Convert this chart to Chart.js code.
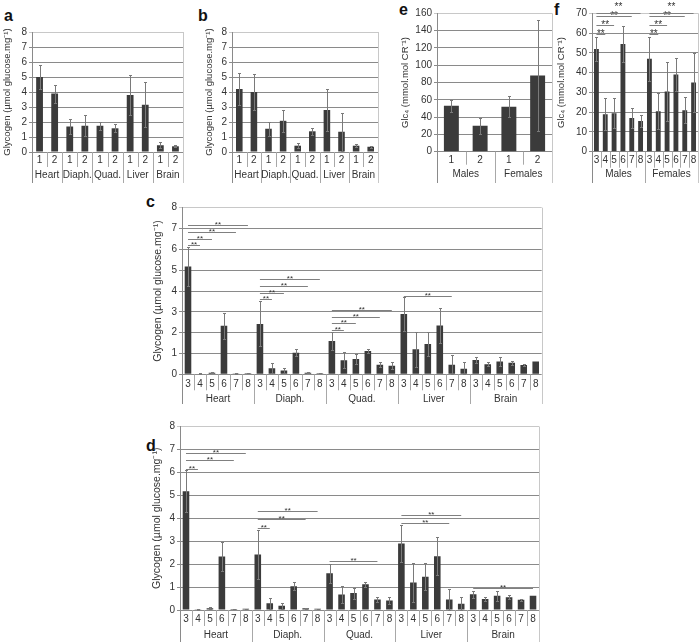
<!DOCTYPE html>
<html>
<head>
<meta charset="utf-8">
<script src="https://cdn.jsdelivr.net/npm/chart.js@4.4.1/dist/chart.umd.min.js"></script>
<style>
body { margin: 0; background: #fff; width: 700px; height: 643px; position: relative; overflow: hidden; }
canvas { position: absolute; }
.lab { position: absolute; font: bold 16px "Liberation Sans", Arial, sans-serif; line-height: 16px; color: #111; }
</style>
</head>
<body>
<div class="lab" style="left:4px;top:8px">a</div>
<div class="lab" style="left:198px;top:8px">b</div>
<div class="lab" style="left:399px;top:2px">e</div>
<div class="lab" style="left:554px;top:2px">f</div>
<div class="lab" style="left:146px;top:194px">c</div>
<div class="lab" style="left:146px;top:438px">d</div>
<canvas id="pa"></canvas>
<canvas id="pb"></canvas>
<canvas id="pe"></canvas>
<canvas id="pf"></canvas>
<canvas id="pc"></canvas>
<canvas id="pd"></canvas>
<script>
var FONT = '"Liberation Sans", Arial, sans-serif';

// categories
var tissues = ['Heart', 'Diaph.', 'Quad.', 'Liver', 'Brain'];
var sexes = ['Males', 'Females'];
var pairLabels = ['1', '2', '1', '2', '1', '2', '1', '2', '1', '2'];
var sexPairLabels = ['1', '2', '1', '2'];
var stages = ['3', '4', '5', '6', '7', '8'];
var tissueStageLabels = [].concat(stages, stages, stages, stages, stages);
var sexStageLabels = [].concat(stages, stages);

// panel a: glycogen, groups 1/2 per tissue
var aMean = [5.0, 3.9, 1.7, 1.75, 1.75, 1.58, 3.8, 3.15, 0.45, 0.38];
var aErr  = [0.8, 0.6, 0.5, 0.7, 0.25, 0.27, 1.35, 1.5, 0.2, 0.07];

// panel b
var bMean = [4.2, 4.0, 1.55, 2.08, 0.42, 1.38, 2.8, 1.35, 0.42, 0.35];
var bErr  = [1.05, 1.2, 0.45, 0.72, 0.18, 0.22, 1.4, 1.25, 0.1, 0.05];

// panels c and d: glycogen by stage 3-8 per tissue
var stageMean = [
  5.18, 0.03, 0.08, 2.33, 0.04, 0.05,
  2.42, 0.29, 0.18, 1.04, 0.08, 0.05,
  1.6, 0.68, 0.74, 1.12, 0.46, 0.41,
  2.9, 1.2, 1.45, 2.34, 0.46, 0.27,
  0.69, 0.48, 0.62, 0.56, 0.45, 0.62
];
var stageErr = [
  0.92, 0.02, 0.03, 0.62, 0.01, 0.01,
  1.08, 0.24, 0.12, 0.18, 0.02, 0.01,
  0.42, 0.38, 0.24, 0.1, 0.12, 0.17,
  0.8, 0.83, 0.58, 0.83, 0.45, 0.31,
  0.16, 0.1, 0.23, 0.1, 0.05, 0.0
];
// significance brackets: [from index, to index, level]
var cBrackets = [
  [0, 1, 6.19], [0, 2, 6.48], [0, 4, 6.83], [0, 5, 7.17],
  [6, 7, 3.6], [6, 8, 3.9], [6, 10, 4.24], [6, 11, 4.56],
  [12, 13, 2.12], [12, 14, 2.44], [12, 16, 2.77], [12, 17, 3.1],
  [18, 22, 3.78]
];
var dBrackets = [
  [0, 1, 6.13], [0, 4, 6.52], [0, 5, 6.86],
  [6, 7, 3.59], [6, 10, 3.96], [6, 11, 4.3],
  [12, 16, 2.13],
  [18, 22, 3.81], [18, 23, 4.14],
  [24, 29, 0.97]
];

// panel e: Glc4 urine
var eMean = [53, 30, 52, 88];
var eErr  = [7, 9, 12, 64];

// panel f: Glc4 by stage
var fMean = [52, 19, 19.5, 54.5, 17, 15.5, 47, 20.5, 30.5, 39, 21, 35];
var fErr  = [6, 8, 7.5, 9, 5, 3, 11, 9, 15, 8.5, 6.5, 15];
var fBrackets = [
  [0, 1, 59.4], [0, 2, 64], [0, 4, 68.5], [0, 5, 70, 76],
  [6, 7, 59.4], [6, 8, 64], [6, 10, 68.5], [6, 11, 70, 76]
];

var glycTitle = 'Glycogen (\u00b5mol glucose.mg\u207b\u00b9)';
var glcTitle = 'Glc\u2084 (mmol.mol CR\u207b\u00b9)';

function errorBarsPlugin(errs) {
  return {
    id: 'errorBars',
    afterDatasetsDraw: function (chart) {
      var ctx = chart.ctx, ys = chart.scales.y;
      var data = chart.data.datasets[0].data;
      var meta = chart.getDatasetMeta(0);
      ctx.save();
      ctx.strokeStyle = '#7a7a7a';
      ctx.lineWidth = 1;
      meta.data.forEach(function (bar, i) {
        if (!errs[i]) return;
        var x = Math.round(bar.x) + 0.5;
        var top = Math.round(ys.getPixelForValue(data[i] + errs[i])) + 0.5;
        var bot = Math.round(ys.getPixelForValue(Math.max(data[i] - errs[i], 0))) + 0.5;
        ctx.beginPath();
        ctx.moveTo(x, top); ctx.lineTo(x, bot);
        ctx.moveTo(x - 1.5, top); ctx.lineTo(x + 1.5, top);
        ctx.moveTo(x - 1.5, bot); ctx.lineTo(x + 1.5, bot);
        ctx.stroke();
      });
      ctx.restore();
    }
  };
}

function bracketsPlugin(list, starSize) {
  return {
    id: 'brackets',
    afterDatasetsDraw: function (chart) {
      var ctx = chart.ctx, xs = chart.scales.x, ys = chart.scales.y;
      ctx.save();
      ctx.strokeStyle = '#808080';
      ctx.lineWidth = 1;
      ctx.fillStyle = '#333';
      ctx.font = starSize + 'px ' + FONT;
      ctx.textAlign = 'center';
      ctx.textBaseline = 'alphabetic';
      (list || []).forEach(function (b) {
        var x0 = xs.getPixelForValue(b[0]), x1 = xs.getPixelForValue(b[1]);
        var y = Math.round(ys.getPixelForValue(b[2])) + 0.5;
        ctx.beginPath(); ctx.moveTo(x0, y); ctx.lineTo(x1, y); ctx.stroke();
        var sy = b.length > 3 ? ys.getPixelForValue(b[3]) + starSize * 0.55 : y - 1;
        ctx.fillText('**', (x0 + x1) / 2, sy + starSize * 0.35);
      });
      ctx.restore();
    }
  };
}

function groupAxisPlugin(groups, size, p) {
  return {
    id: 'groupAxis',
    afterDraw: function (chart) {
      var ctx = chart.ctx, xs = chart.scales.x, area = chart.chartArea;
      var n = chart.data.labels.length;
      var b = area.bottom, end = chart.height - 1;
      ctx.save();
      ctx.lineWidth = 1;
      ctx.strokeStyle = '#c8c8c8';
      var xr = Math.round(area.right) + 0.5;
      ctx.beginPath(); ctx.moveTo(xr, area.top); ctx.lineTo(xr, end); ctx.stroke();
      for (var i = 0; i < n; i++) {
        var x = Math.round(xs.getPixelForValue(i - 0.5)) + 0.5;
        var full = i % size === 0;
        ctx.strokeStyle = i === 0 ? '#8a8a8a' : '#a8a8a8';
        ctx.beginPath(); ctx.moveTo(x, b); ctx.lineTo(x, full ? end : b + p.row); ctx.stroke();
      }
      ctx.fillStyle = '#333';
      ctx.font = p.tickSize + 'px ' + FONT;
      ctx.textAlign = 'center';
      ctx.textBaseline = 'middle';
      groups.forEach(function (g, k) {
        var x0 = xs.getPixelForValue(k * size), x1 = xs.getPixelForValue((k + 1) * size - 1);
        ctx.fillText(g, (x0 + x1) / 2, b + p.groupY);
      });
      ctx.restore();
    }
  };
}

function makePanel(id, p) {
  var cv = document.getElementById(id);
  cv.width = p.w; cv.height = p.h;
  cv.style.left = p.left + 'px'; cv.style.top = p.top + 'px';
  var half = p.titleSize * 0.6;
  return new Chart(cv, {
    type: 'bar',
    data: {
      labels: p.labels,
      datasets: [{ data: p.values, backgroundColor: '#3b3b3b', barPercentage: p.bar, categoryPercentage: 1 }]
    },
    options: {
      responsive: false,
      animation: false,
      events: [],
      layout: { padding: { top: p.plotTop - p.top, right: p.left + p.w - p.plotRight, bottom: 0, left: 0 } },
      scales: {
        x: {
          grid: { display: false, drawTicks: false },
          border: { display: false },
          ticks: { autoSkip: false, maxRotation: 0, padding: p.labelY - p.tickSize * 0.6, color: '#333', font: { family: FONT, size: p.tickSize } },
          afterFit: function (s) { s.height = p.top + p.h - p.plotBottom; }
        },
        y: {
          min: 0, max: p.max,
          ticks: { stepSize: p.step, padding: 2, color: '#333', font: { family: FONT, size: p.tickSize } },
          grid: {
            tickLength: 3,
            color: function (c) { return c.tick && c.tick.value === p.max ? '#c8c8c8' : '#8a8a8a'; }
          },
          border: { color: '#8a8a8a' },
          title: {
            display: true, text: p.title, color: '#333',
            font: { family: FONT, size: p.titleSize },
            padding: { top: p.titleX - p.left - half, bottom: 0 }
          },
          afterFit: function (s) { s.width = p.plotLeft - p.left; }
        }
      },
      plugins: { legend: { display: false }, tooltip: { enabled: false } }
    },
    plugins: [errorBarsPlugin(p.errs), bracketsPlugin(p.brackets, p.starSize || 9), groupAxisPlugin(p.groups, p.size, p)]
  });
}

makePanel('pa', {
  left: 0, top: 0, w: 190, h: 184, plotLeft: 32, plotRight: 183, plotTop: 32, plotBottom: 152,
  labels: pairLabels, groups: tissues, size: 2, values: aMean, errs: aErr, max: 8, step: 1,
  title: glycTitle, titleSize: 9.5, titleX: 7, tickSize: 10, bar: 0.45,
  labelY: 8.3, row: 15, groupY: 23.3
});
makePanel('pb', {
  left: 196, top: 0, w: 186, h: 184, plotLeft: 232, plotRight: 378, plotTop: 32, plotBottom: 152,
  labels: pairLabels, groups: tissues, size: 2, values: bMean, errs: bErr, max: 8, step: 1,
  title: glycTitle, titleSize: 9.5, titleX: 209, tickSize: 10, bar: 0.45,
  labelY: 8.3, row: 15, groupY: 23.3
});
makePanel('pe', {
  left: 398, top: 0, w: 158, h: 184, plotLeft: 437, plotRight: 552, plotTop: 13.3, plotBottom: 151.7,
  labels: sexPairLabels, groups: sexes, size: 2, values: eMean, errs: eErr, max: 160, step: 20,
  title: glcTitle, titleSize: 9.5, titleX: 405, tickSize: 10, bar: 0.52,
  labelY: 8.3, row: 13, groupY: 22.6
});
makePanel('pf', {
  left: 553, top: 0, w: 147, h: 184, plotLeft: 592, plotRight: 698, plotTop: 13.3, plotBottom: 151.7,
  labels: sexStageLabels, groups: sexes, size: 6, values: fMean, errs: fErr, max: 70, step: 10,
  title: glcTitle, titleSize: 9.5, titleX: 561, tickSize: 10, bar: 0.55, brackets: fBrackets, starSize: 10,
  labelY: 9, row: 16, groupY: 22.6
});
makePanel('pc', {
  left: 150, top: 195, w: 396, h: 210, plotLeft: 182, plotRight: 541.7, plotTop: 207.7, plotBottom: 374.3,
  labels: tissueStageLabels, groups: tissues, size: 6, values: stageMean, errs: stageErr, max: 8, step: 1,
  title: glycTitle, titleSize: 10.5, titleX: 158, tickSize: 10, bar: 0.55, brackets: cBrackets, starSize: 8,
  labelY: 10, row: 16, groupY: 25
});
makePanel('pd', {
  left: 149, top: 415, w: 394, h: 228, plotLeft: 180, plotRight: 539, plotTop: 426.5, plotBottom: 610,
  labels: tissueStageLabels, groups: tissues, size: 6, values: stageMean, errs: stageErr, max: 8, step: 1,
  title: glycTitle, titleSize: 10.5, titleX: 157, tickSize: 10, bar: 0.55, brackets: dBrackets, starSize: 8,
  labelY: 9.3, row: 16, groupY: 25
});
</script>
</body>
</html>
